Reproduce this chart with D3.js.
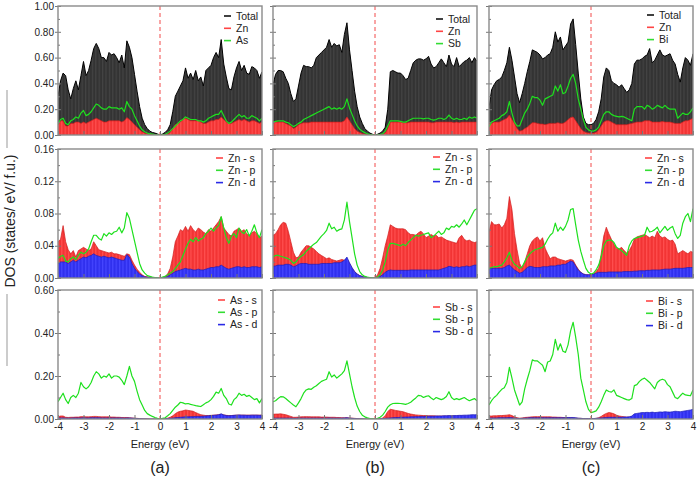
<!DOCTYPE html>
<html>
<head>
<meta charset="utf-8">
<script src="https://cdn.jsdelivr.net/npm/d3@7"></script>
<style>
body { margin: 0; background: #fff; }
svg { display: block; }
text { font-family: "Liberation Sans", Arial, sans-serif; fill: #222; }
</style>
</head>
<body>
<svg id="chart" width="698" height="477"></svg>
<script>
// energy grid: -4 .. 4 eV, 0.1 eV step (81 points per series)
const energy = d3.range(81).map(i => Math.round((-4 + i * 0.1) * 10) / 10);

// ---- row 1: total / Zn / X ----
const totA = [0.30,0.42,0.48,0.46,0.35,0.28,0.36,0.42,0.35,0.46,
	0.57,0.46,0.50,0.58,0.67,0.71,0.67,0.60,0.60,0.57,
	0.64,0.62,0.63,0.60,0.56,0.62,0.52,0.73,0.68,0.60,
	0.47,0.34,0.22,0.13,0.08,0.05,0.03,0.02,0.015,0.008,
	0.0,0.008,0.02,0.04,0.08,0.18,0.30,0.34,0.38,0.42,
	0.52,0.44,0.48,0.43,0.50,0.42,0.45,0.38,0.50,0.52,
	0.54,0.60,0.64,0.60,0.74,0.55,0.45,0.36,0.35,0.45,
	0.52,0.57,0.50,0.54,0.48,0.47,0.53,0.52,0.50,0.44,
	0.49];
const znA = [0.08,0.11,0.11,0.07,0.07,0.09,0.09,0.10,0.10,0.09,
	0.10,0.09,0.10,0.11,0.12,0.13,0.12,0.11,0.10,0.10,
	0.11,0.11,0.11,0.11,0.11,0.10,0.11,0.135,0.12,0.10,
	0.08,0.06,0.04,0.025,0.015,0.01,0.006,0.004,0.002,0.001,
	0,0.001,0.003,0.008,0.02,0.05,0.08,0.09,0.10,0.12,
	0.13,0.12,0.11,0.11,0.11,0.11,0.10,0.09,0.09,0.10,
	0.11,0.11,0.12,0.12,0.14,0.12,0.10,0.09,0.09,0.10,
	0.11,0.12,0.11,0.12,0.11,0.10,0.11,0.11,0.10,0.09,
	0.10];
const asA = [0.085,0.12,0.13,0.09,0.08,0.11,0.12,0.14,0.13,0.17,
	0.19,0.15,0.16,0.18,0.21,0.24,0.23,0.21,0.20,0.20,
	0.22,0.21,0.21,0.21,0.20,0.21,0.18,0.26,0.22,0.20,
	0.15,0.11,0.07,0.04,0.025,0.015,0.01,0.007,0.004,0.002,
	0,0.002,0.006,0.015,0.03,0.05,0.07,0.09,0.11,0.12,
	0.14,0.13,0.12,0.12,0.12,0.11,0.11,0.10,0.11,0.13,
	0.14,0.15,0.16,0.16,0.19,0.15,0.11,0.09,0.10,0.12,
	0.14,0.16,0.14,0.15,0.13,0.13,0.15,0.14,0.13,0.11,
	0.13];
const totB = [0.39,0.47,0.50,0.50,0.49,0.44,0.40,0.32,0.26,0.28,
	0.38,0.48,0.54,0.53,0.53,0.52,0.54,0.60,0.62,0.64,
	0.66,0.68,0.74,0.68,0.71,0.69,0.70,0.64,0.78,0.87,
	0.66,0.50,0.34,0.22,0.14,0.09,0.05,0.03,0.015,0.006,
	0,0.006,0.015,0.03,0.06,0.20,0.49,0.50,0.49,0.48,
	0.48,0.46,0.43,0.44,0.50,0.56,0.58,0.59,0.59,0.58,
	0.59,0.61,0.55,0.52,0.53,0.56,0.59,0.56,0.53,0.62,
	0.55,0.53,0.60,0.53,0.55,0.57,0.58,0.60,0.56,0.60,
	0.57];
const znB = [0.09,0.10,0.10,0.10,0.10,0.09,0.08,0.07,0.05,0.06,
	0.08,0.09,0.095,0.095,0.095,0.10,0.10,0.10,0.10,0.10,
	0.10,0.10,0.10,0.10,0.10,0.10,0.10,0.10,0.11,0.14,
	0.11,0.08,0.05,0.03,0.02,0.012,0.007,0.004,0.002,0.001,
	0,0.001,0.003,0.006,0.015,0.05,0.10,0.10,0.10,0.10,
	0.10,0.095,0.095,0.095,0.10,0.10,0.10,0.10,0.10,0.10,
	0.10,0.10,0.095,0.095,0.10,0.10,0.10,0.10,0.10,0.10,
	0.10,0.095,0.10,0.095,0.10,0.10,0.10,0.10,0.10,0.10,
	0.10];
const sbB = [0.10,0.105,0.11,0.11,0.11,0.10,0.095,0.08,0.065,0.075,
	0.09,0.10,0.12,0.13,0.14,0.15,0.16,0.17,0.18,0.19,
	0.20,0.21,0.22,0.20,0.21,0.20,0.21,0.20,0.22,0.28,
	0.21,0.16,0.11,0.07,0.045,0.03,0.018,0.01,0.005,0.002,
	0,0.002,0.005,0.01,0.03,0.07,0.11,0.11,0.11,0.11,
	0.105,0.10,0.10,0.11,0.12,0.13,0.13,0.13,0.13,0.125,
	0.13,0.13,0.12,0.115,0.12,0.13,0.13,0.12,0.13,0.155,
	0.13,0.12,0.13,0.12,0.12,0.13,0.12,0.14,0.13,0.14,
	0.13];
const totC = [0.21,0.35,0.39,0.42,0.43,0.45,0.50,0.56,0.68,0.58,
	0.45,0.32,0.25,0.32,0.40,0.49,0.57,0.66,0.65,0.64,
	0.62,0.59,0.60,0.62,0.63,0.68,0.80,0.72,0.76,0.66,
	0.69,0.72,0.86,0.90,0.70,0.48,0.28,0.14,0.09,0.08,
	0.08,0.09,0.12,0.18,0.28,0.45,0.52,0.50,0.42,0.40,
	0.39,0.37,0.39,0.36,0.33,0.35,0.40,0.55,0.58,0.58,
	0.59,0.61,0.62,0.67,0.56,0.58,0.62,0.66,0.62,0.61,
	0.62,0.63,0.58,0.55,0.47,0.41,0.52,0.60,0.58,0.54,
	0.63];
const znC = [0.09,0.09,0.10,0.10,0.10,0.11,0.12,0.13,0.155,0.12,
	0.09,0.05,0.03,0.035,0.05,0.06,0.08,0.095,0.095,0.09,
	0.085,0.085,0.08,0.085,0.09,0.09,0.09,0.095,0.09,0.09,
	0.10,0.12,0.135,0.14,0.11,0.08,0.05,0.03,0.02,0.015,
	0.013,0.015,0.02,0.04,0.07,0.10,0.11,0.11,0.10,0.09,
	0.08,0.08,0.08,0.08,0.08,0.085,0.09,0.095,0.10,0.10,
	0.10,0.11,0.11,0.11,0.10,0.10,0.10,0.10,0.105,0.10,
	0.10,0.10,0.095,0.09,0.09,0.09,0.10,0.11,0.11,0.12,
	0.13];
const biC = [0.065,0.10,0.11,0.12,0.13,0.15,0.16,0.18,0.26,0.17,
	0.10,0.07,0.07,0.12,0.17,0.20,0.245,0.30,0.29,0.29,
	0.27,0.23,0.28,0.29,0.30,0.31,0.38,0.34,0.39,0.32,
	0.33,0.38,0.44,0.47,0.40,0.28,0.20,0.12,0.06,0.04,
	0.03,0.03,0.04,0.06,0.11,0.16,0.18,0.18,0.16,0.15,
	0.145,0.14,0.145,0.14,0.13,0.12,0.11,0.20,0.22,0.22,
	0.22,0.20,0.23,0.22,0.20,0.21,0.23,0.22,0.21,0.23,
	0.21,0.20,0.20,0.20,0.13,0.15,0.17,0.16,0.16,0.18,
	0.21];

// ---- row 2: Zn s / p / d ----
const znsA = [0.045,0.048,0.065,0.045,0.035,0.030,0.034,0.026,0.034,0.036,
	0.038,0.036,0.034,0.036,0.045,0.040,0.035,0.034,0.033,0.032,
	0.031,0.032,0.030,0.030,0.029,0.028,0.027,0.030,0.029,0.022,
	0.016,0.011,0.007,0.004,0.002,0.0015,0.001,0.0005,0.0003,0.0001,
	0,0.0005,0.002,0.005,0.012,0.026,0.045,0.052,0.060,0.058,
	0.064,0.058,0.065,0.060,0.057,0.062,0.060,0.057,0.055,0.060,
	0.058,0.062,0.066,0.070,0.076,0.062,0.058,0.054,0.052,0.058,
	0.060,0.062,0.058,0.060,0.055,0.052,0.056,0.058,0.055,0.050,
	0.052];
const znpA = [0.024,0.027,0.028,0.021,0.020,0.024,0.026,0.023,0.028,0.032,
	0.030,0.032,0.036,0.045,0.053,0.053,0.049,0.047,0.055,0.052,
	0.056,0.054,0.057,0.058,0.063,0.056,0.062,0.081,0.074,0.060,
	0.046,0.032,0.018,0.010,0.006,0.003,0.002,0.001,0.0005,0.0002,
	0,0.001,0.002,0.004,0.006,0.008,0.012,0.016,0.020,0.028,
	0.036,0.043,0.048,0.045,0.050,0.046,0.048,0.050,0.055,0.058,
	0.062,0.058,0.062,0.065,0.076,0.062,0.050,0.043,0.052,0.055,
	0.050,0.062,0.057,0.055,0.060,0.052,0.058,0.066,0.056,0.050,
	0.060];
const zndA = [0.018,0.020,0.020,0.020,0.018,0.020,0.022,0.020,0.022,0.024,
	0.026,0.025,0.027,0.028,0.030,0.028,0.027,0.026,0.027,0.026,
	0.025,0.026,0.025,0.024,0.023,0.022,0.022,0.029,0.026,0.018,
	0.012,0.008,0.005,0.003,0.0015,0.001,0.0005,0.0003,0.0002,0.0001,
	0,0.0002,0.001,0.002,0.004,0.006,0.008,0.009,0.010,0.011,
	0.012,0.011,0.011,0.010,0.010,0.011,0.010,0.010,0.011,0.012,
	0.013,0.013,0.014,0.014,0.016,0.014,0.012,0.011,0.012,0.013,
	0.014,0.014,0.013,0.014,0.013,0.013,0.014,0.014,0.014,0.013,
	0.014];
const znsB = [0.053,0.055,0.060,0.066,0.069,0.068,0.058,0.045,0.032,0.025,
	0.026,0.032,0.036,0.040,0.040,0.038,0.036,0.033,0.030,0.028,
	0.026,0.024,0.025,0.023,0.022,0.021,0.022,0.023,0.022,0.024,
	0.018,0.012,0.008,0.005,0.003,0.002,0.001,0.0005,0.0003,0.0001,
	0,0.004,0.012,0.025,0.040,0.052,0.066,0.064,0.062,0.061,
	0.061,0.061,0.060,0.056,0.054,0.054,0.053,0.056,0.058,0.055,
	0.050,0.052,0.054,0.052,0.053,0.050,0.051,0.049,0.047,0.046,
	0.045,0.044,0.043,0.050,0.053,0.048,0.046,0.047,0.045,0.044,
	0.045];
const znpB = [0.026,0.028,0.028,0.027,0.026,0.025,0.024,0.022,0.018,0.020,
	0.024,0.027,0.029,0.033,0.036,0.039,0.042,0.044,0.048,0.052,
	0.055,0.059,0.068,0.061,0.063,0.058,0.060,0.061,0.072,0.094,
	0.070,0.050,0.030,0.016,0.008,0.004,0.002,0.001,0.0005,0.0002,
	0,0.001,0.004,0.010,0.020,0.035,0.043,0.043,0.042,0.041,
	0.040,0.042,0.040,0.044,0.047,0.050,0.053,0.052,0.053,0.054,
	0.055,0.056,0.050,0.052,0.055,0.058,0.054,0.056,0.062,0.060,
	0.064,0.063,0.066,0.063,0.067,0.072,0.066,0.072,0.078,0.084,
	0.086];
const zndB = [0.0145,0.015,0.016,0.016,0.016,0.017,0.017,0.016,0.014,0.015,
	0.017,0.018,0.018,0.018,0.017,0.017,0.017,0.017,0.017,0.018,
	0.018,0.018,0.018,0.018,0.019,0.019,0.019,0.020,0.022,0.026,
	0.019,0.013,0.008,0.005,0.003,0.002,0.001,0.0005,0.0002,0.0001,
	0,0.0005,0.002,0.004,0.007,0.009,0.010,0.0095,0.0095,0.0095,
	0.0095,0.0095,0.0095,0.0095,0.010,0.010,0.010,0.010,0.010,0.010,
	0.010,0.010,0.010,0.010,0.010,0.010,0.011,0.012,0.013,0.0145,
	0.014,0.013,0.014,0.013,0.014,0.014,0.015,0.014,0.015,0.016,
	0.016];
const znsC = [0.057,0.070,0.066,0.066,0.067,0.062,0.066,0.074,0.101,0.085,
	0.055,0.035,0.018,0.012,0.020,0.030,0.040,0.046,0.049,0.051,
	0.046,0.050,0.037,0.030,0.024,0.026,0.026,0.024,0.023,0.022,
	0.021,0.022,0.023,0.022,0.016,0.011,0.007,0.005,0.004,0.004,
	0.004,0.005,0.008,0.012,0.030,0.052,0.063,0.055,0.048,0.042,
	0.037,0.036,0.038,0.034,0.031,0.034,0.040,0.048,0.051,0.052,
	0.053,0.054,0.052,0.050,0.052,0.050,0.058,0.052,0.050,0.051,
	0.048,0.046,0.047,0.042,0.030,0.032,0.034,0.032,0.030,0.033,
	0.032];
const znpC = [0.012,0.013,0.014,0.014,0.015,0.016,0.020,0.025,0.032,0.022,
	0.017,0.015,0.012,0.014,0.020,0.026,0.030,0.033,0.035,0.036,
	0.037,0.038,0.042,0.048,0.053,0.056,0.068,0.058,0.063,0.059,
	0.064,0.072,0.085,0.086,0.066,0.047,0.033,0.022,0.012,0.007,
	0.005,0.006,0.010,0.016,0.026,0.040,0.046,0.047,0.047,0.044,
	0.038,0.036,0.034,0.031,0.028,0.040,0.046,0.049,0.050,0.051,
	0.052,0.053,0.063,0.057,0.058,0.060,0.063,0.056,0.060,0.064,
	0.059,0.062,0.064,0.055,0.049,0.053,0.068,0.076,0.080,0.070,
	0.086];
const zndC = [0.012,0.012,0.012,0.012,0.012,0.012,0.013,0.015,0.016,0.013,
	0.010,0.008,0.006,0.007,0.010,0.013,0.0145,0.014,0.013,0.013,
	0.013,0.014,0.014,0.014,0.015,0.015,0.015,0.016,0.016,0.017,
	0.017,0.019,0.021,0.020,0.015,0.010,0.007,0.005,0.004,0.004,
	0.004,0.005,0.006,0.007,0.007,0.007,0.007,0.0075,0.0075,0.0075,
	0.0075,0.0075,0.0075,0.008,0.008,0.008,0.008,0.0085,0.0085,0.009,
	0.009,0.009,0.0095,0.0095,0.010,0.010,0.010,0.010,0.0105,0.011,
	0.011,0.011,0.0115,0.012,0.012,0.012,0.012,0.0125,0.013,0.013,
	0.013];

// ---- row 3: X s / p / d ----
const assA = [0.010,0.014,0.014,0.008,0.007,0.008,0.008,0.009,0.009,0.011,
	0.011,0.010,0.010,0.011,0.012,0.012,0.011,0.010,0.010,0.010,
	0.010,0.009,0.009,0.008,0.008,0.007,0.007,0.007,0.006,0.005,
	0.004,0.003,0.002,0.0015,0.001,0.0008,0.0005,0.0003,0.0002,0.0001,
	0,0.001,0.002,0.004,0.008,0.015,0.025,0.032,0.036,0.038,
	0.042,0.040,0.038,0.036,0.030,0.025,0.020,0.018,0.016,0.016,
	0.017,0.018,0.019,0.020,0.022,0.019,0.017,0.016,0.016,0.017,
	0.018,0.018,0.018,0.018,0.018,0.018,0.018,0.018,0.018,0.018,
	0.018];
const aspA = [0.080,0.100,0.120,0.090,0.072,0.100,0.110,0.100,0.120,0.170,
	0.150,0.140,0.150,0.170,0.200,0.220,0.210,0.190,0.200,0.195,
	0.210,0.190,0.200,0.200,0.195,0.180,0.160,0.200,0.245,0.200,
	0.175,0.130,0.090,0.065,0.040,0.025,0.018,0.012,0.007,0.003,
	0.0,0.003,0.006,0.015,0.025,0.040,0.055,0.065,0.078,0.075,
	0.070,0.072,0.068,0.065,0.062,0.060,0.058,0.066,0.075,0.080,
	0.090,0.105,0.125,0.120,0.142,0.110,0.095,0.070,0.065,0.090,
	0.100,0.120,0.110,0.115,0.105,0.110,0.100,0.090,0.095,0.075,
	0.095];
const asdA = [0.005,0.005,0.005,0.004,0.004,0.004,0.005,0.005,0.005,0.005,
	0.006,0.005,0.005,0.006,0.006,0.006,0.006,0.005,0.005,0.005,
	0.005,0.005,0.005,0.005,0.005,0.005,0.004,0.005,0.005,0.004,
	0.003,0.002,0.0015,0.001,0.0008,0.0005,0.0003,0.0002,0.0001,0.0001,
	0,0.0005,0.001,0.002,0.003,0.004,0.006,0.007,0.008,0.009,
	0.010,0.010,0.011,0.011,0.012,0.012,0.012,0.013,0.014,0.015,
	0.016,0.017,0.018,0.020,0.024,0.019,0.016,0.015,0.016,0.017,
	0.018,0.019,0.018,0.018,0.017,0.017,0.018,0.018,0.018,0.017,
	0.018];
const sbsB = [0.022,0.023,0.023,0.024,0.022,0.020,0.016,0.012,0.008,0.008,
	0.009,0.010,0.011,0.011,0.011,0.010,0.010,0.010,0.010,0.009,
	0.009,0.009,0.008,0.008,0.008,0.007,0.007,0.006,0.006,0.006,
	0.005,0.004,0.003,0.002,0.001,0.001,0.0005,0.0003,0.0002,0.0001,
	0,0.0005,0.001,0.005,0.015,0.035,0.045,0.043,0.040,0.038,
	0.036,0.034,0.030,0.026,0.023,0.021,0.019,0.018,0.017,0.016,
	0.016,0.015,0.015,0.015,0.014,0.014,0.014,0.014,0.014,0.014,
	0.014,0.014,0.014,0.014,0.014,0.014,0.014,0.014,0.014,0.014,
	0.014];
const sbpB = [0.080,0.085,0.095,0.104,0.103,0.095,0.085,0.075,0.065,0.057,
	0.075,0.095,0.120,0.135,0.140,0.138,0.148,0.155,0.165,0.175,
	0.180,0.185,0.220,0.195,0.205,0.190,0.200,0.210,0.225,0.270,
	0.210,0.150,0.100,0.060,0.035,0.018,0.010,0.005,0.002,0.001,
	0.0,0.003,0.008,0.018,0.035,0.055,0.066,0.072,0.073,0.073,
	0.072,0.070,0.068,0.072,0.078,0.088,0.098,0.110,0.108,0.100,
	0.105,0.108,0.098,0.090,0.100,0.095,0.090,0.095,0.105,0.127,
	0.100,0.090,0.095,0.090,0.095,0.100,0.092,0.085,0.090,0.095,
	0.085];
const sbdB = [0.004,0.004,0.004,0.004,0.004,0.004,0.004,0.004,0.003,0.003,
	0.004,0.004,0.004,0.004,0.004,0.004,0.004,0.004,0.004,0.004,
	0.004,0.004,0.005,0.004,0.004,0.004,0.004,0.004,0.005,0.006,
	0.004,0.003,0.002,0.0015,0.001,0.0008,0.0005,0.0003,0.0002,0.0001,
	0,0.0005,0.001,0.002,0.003,0.004,0.005,0.006,0.007,0.007,
	0.008,0.008,0.009,0.009,0.010,0.010,0.011,0.011,0.012,0.012,
	0.012,0.013,0.013,0.013,0.014,0.014,0.014,0.015,0.015,0.016,
	0.015,0.016,0.016,0.017,0.017,0.018,0.018,0.019,0.020,0.020,
	0.020];
const bisC = [0.014,0.014,0.015,0.015,0.016,0.016,0.017,0.018,0.020,0.016,
	0.010,0.006,0.004,0.005,0.007,0.008,0.009,0.010,0.011,0.011,
	0.011,0.010,0.010,0.010,0.010,0.009,0.009,0.008,0.008,0.007,
	0.006,0.006,0.006,0.005,0.004,0.003,0.003,0.002,0.002,0.002,
	0.002,0.002,0.003,0.006,0.012,0.020,0.026,0.030,0.028,0.024,
	0.018,0.014,0.012,0.010,0.009,0.009,0.009,0.009,0.008,0.008,
	0.008,0.008,0.008,0.008,0.008,0.008,0.008,0.008,0.008,0.008,
	0.008,0.008,0.008,0.008,0.008,0.008,0.008,0.008,0.008,0.008,
	0.008];
const bipC = [0.065,0.085,0.100,0.110,0.125,0.138,0.145,0.170,0.240,0.190,
	0.135,0.100,0.065,0.080,0.140,0.185,0.225,0.275,0.270,0.270,
	0.260,0.250,0.220,0.265,0.270,0.300,0.370,0.320,0.350,0.315,
	0.310,0.345,0.410,0.450,0.380,0.300,0.190,0.135,0.080,0.045,
	0.030,0.033,0.038,0.055,0.080,0.110,0.135,0.128,0.125,0.135,
	0.110,0.105,0.100,0.095,0.090,0.088,0.095,0.155,0.160,0.175,
	0.185,0.190,0.180,0.170,0.155,0.140,0.170,0.180,0.185,0.180,
	0.160,0.150,0.125,0.100,0.095,0.108,0.120,0.112,0.110,0.108,
	0.135];
const bidC = [0.005,0.005,0.005,0.005,0.006,0.006,0.006,0.006,0.007,0.006,
	0.004,0.003,0.002,0.003,0.004,0.005,0.006,0.006,0.006,0.006,
	0.006,0.006,0.006,0.006,0.006,0.006,0.006,0.006,0.006,0.006,
	0.006,0.007,0.007,0.007,0.006,0.004,0.003,0.002,0.002,0.002,
	0.002,0.002,0.003,0.004,0.005,0.006,0.007,0.008,0.008,0.008,
	0.008,0.008,0.008,0.009,0.009,0.010,0.014,0.024,0.026,0.028,
	0.030,0.030,0.031,0.030,0.032,0.030,0.031,0.033,0.032,0.034,
	0.033,0.032,0.034,0.036,0.035,0.034,0.036,0.038,0.040,0.042,
	0.045];

const xTicks = [-4, -3, -2, -1, 0, 1, 2, 3, 4];
const panelTags = ['(a)', '(b)', '(c)'];

// layout
const colLeft = [58, 273, 489], rowTop = [6, 149, 290];
const pw = 204, ph = 129;
const yMax = [1.0, 0.16, 0.6], yStep = [0.2, 0.04, 0.2];

const panels = [
	{ c: 0, r: 0, leg: [26, 10], series: [['Total', totA, 'total'], ['Zn', znA, 'red'], ['As', asA, 'green']] },
	{ c: 1, r: 0, leg: [29, 13], series: [['Total', totB, 'total'], ['Zn', znB, 'red'], ['Sb', sbB, 'green']] },
	{ c: 2, r: 0, leg: [34, 9], series: [['Total', totC, 'total'], ['Zn', znC, 'red'], ['Bi', biC, 'green']] },
	{ c: 0, r: 1, leg: [34, 9], series: [['Zn - s', znsA, 'red'], ['Zn - p', znpA, 'green'], ['Zn - d', zndA, 'blue']] },
	{ c: 1, r: 1, leg: [32, 8], series: [['Zn - s', znsB, 'red'], ['Zn - p', znpB, 'green'], ['Zn - d', zndB, 'blue']] },
	{ c: 2, r: 1, leg: [36, 9], series: [['Zn - s', znsC, 'red'], ['Zn - p', znpC, 'green'], ['Zn - d', zndC, 'blue']] },
	{ c: 0, r: 2, leg: [32, 10], series: [['As - s', assA, 'red'], ['As - p', aspA, 'green'], ['As - d', asdA, 'blue']] },
	{ c: 1, r: 2, leg: [32, 17], series: [['Sb - s', sbsB, 'red'], ['Sb - p', sbpB, 'green'], ['Sb - d', sbdB, 'blue']] },
	{ c: 2, r: 2, leg: [35, 11], series: [['Bi - s', bisC, 'red'], ['Bi - p', bipC, 'green'], ['Bi - d', bidC, 'blue']] }
];

const style = {
	total: { fill: 'url(#pat-total)', stroke: '#000', sw: 1, key: '#111' },
	red: { fill: 'url(#pat-red)', stroke: '#d01c1c', sw: 0.7, key: '#f44' },
	blue: { fill: 'url(#pat-blue)', stroke: '#1c1cb8', sw: 0.7, key: '#2a2ae6' },
	green: { fill: 'none', stroke: '#1ee01e', sw: 1.2, key: '#3d3' }
};
const drawOrder = ['total', 'red', 'blue', 'green'];

const svg = d3.select('#chart');
const defs = svg.append('defs');

function stripes(id, base, line) {
	const p = defs.append('pattern').attr('id', id).attr('patternUnits', 'userSpaceOnUse')
		.attr('width', 3.4).attr('height', 10);
	p.append('rect').attr('width', 3.4).attr('height', 10).attr('fill', base);
	p.append('rect').attr('width', 1.2).attr('height', 10).attr('fill', line);
}
stripes('pat-total', '#333', '#444');
stripes('pat-red', '#f23434', '#ff4f4f');
stripes('pat-blue', '#3030ee', '#4646ff');

panels.forEach((p, k) => {
	const x0 = colLeft[p.c], y0 = rowTop[p.r];
	const x = d3.scaleLinear().domain([-4, 4]).range([x0, x0 + pw]);
	const y = d3.scaleLinear().domain([0, yMax[p.r]]).range([y0 + ph, y0]);

	defs.append('clipPath').attr('id', 'clip' + k)
		.append('rect').attr('x', x0).attr('y', y0).attr('width', pw).attr('height', ph);

	const g = svg.append('g').attr('clip-path', 'url(#clip' + k + ')');

	const area = d3.area().x((d, i) => x(energy[i])).y0(y(0)).y1(d => y(d));
	const line = d3.line().x((d, i) => x(energy[i])).y(d => y(d));

	drawOrder.forEach(kind => {
		const s = p.series.find(d => d[2] == kind);
		if (!s) return;
		const st = style[kind];
		if (kind == 'green') {
			g.append('path').attr('d', line(s[1])).attr('fill', 'none')
				.attr('stroke', st.stroke).attr('stroke-width', st.sw).attr('stroke-linejoin', 'round');
		} else {
			g.append('path').attr('d', area(s[1])).attr('fill', st.fill);
			g.append('path').attr('d', line(s[1])).attr('fill', 'none')
				.attr('stroke', st.stroke).attr('stroke-width', st.sw).attr('stroke-linejoin', 'round');
		}
	});

	// Fermi level
	g.append('line').attr('x1', x(0)).attr('x2', x(0)).attr('y1', y0).attr('y2', y0 + ph)
		.attr('stroke', '#f24a4a').attr('stroke-width', 1).attr('stroke-dasharray', '4,3');

	// y axis: major ticks cross the frame, minor ticks inside; labels on first column only
	const majors = d3.range(0, yMax[p.r] + 1e-9, yStep[p.r]);
	const minors = d3.range(yStep[p.r] / 2, yMax[p.r], yStep[p.r]);
	const yAxis = d3.axisLeft(y).tickValues(majors).tickSizeInner(3).tickSizeOuter(0).tickPadding(1)
		.tickFormat(p.c == 0 ? d3.format('.2f') : '');
	const ya = svg.append('g').attr('transform', 'translate(' + x0 + ',0)').call(yAxis);
	const yIn = d3.axisLeft(y).tickValues(majors).tickSizeInner(-3).tickSizeOuter(0).tickFormat('');
	const yi = svg.append('g').attr('transform', 'translate(' + x0 + ',0)').call(yIn);
	const yMinor = d3.axisLeft(y).tickValues(minors).tickSizeInner(-2).tickSizeOuter(0).tickFormat('');
	const ym = svg.append('g').attr('transform', 'translate(' + x0 + ',0)').call(yMinor);

	const xAxis = d3.axisBottom(x).tickValues(xTicks).tickSizeInner(-4).tickSizeOuter(0).tickPadding(4)
		.tickFormat(p.r == 2 ? (d => String(d)) : '');
	const xa = svg.append('g').attr('transform', 'translate(0,' + (y0 + ph) + ')').call(xAxis);

	[ya, yi, ym, xa].forEach(a => {
		a.select('.domain').remove();
		a.selectAll('line').attr('stroke', '#777');
		a.selectAll('text').attr('font-size', 10).attr('font-family', null).attr('fill', '#222');
	});

	// frame
	svg.append('rect').attr('x', x0).attr('y', y0).attr('width', pw).attr('height', ph)
		.attr('fill', 'none').attr('stroke', '#8a8a8a').attr('stroke-width', 1.4);

	// legend
	const lx = x0 + pw - p.leg[0], ly = y0 + p.leg[1];
	const lg = svg.append('g');
	p.series.forEach((s, i) => {
		const yy = ly + i * 12.3;
		lg.append('line').attr('x1', lx - 12).attr('x2', lx - 5).attr('y1', yy).attr('y2', yy)
			.attr('stroke', style[s[2]].key).attr('stroke-width', 1.6);
		lg.append('text').attr('x', lx).attr('y', yy).attr('dy', '0.35em')
			.attr('font-size', 10.5).text(s[0]);
	});

	if (p.r == 2) {
		svg.append('text').attr('x', x0 + pw / 2).attr('y', 448).attr('text-anchor', 'middle')
			.attr('font-size', 11).text('Energy (eV)');
		svg.append('text').attr('x', x0 + pw / 2).attr('y', 473).attr('text-anchor', 'middle')
			.attr('font-size', 16).text(panelTags[p.c]);
	}
});

// shared y label with rule lines
svg.append('text').attr('transform', 'translate(15,221) rotate(-90)').attr('text-anchor', 'middle')
	.attr('font-size', 14).text('DOS (states/ eV/ f.u.)');
svg.append('line').attr('x1', 7).attr('x2', 7).attr('y1', 90).attr('y2', 148).attr('stroke', '#999');
svg.append('line').attr('x1', 7).attr('x2', 7).attr('y1', 294).attr('y2', 366).attr('stroke', '#999');
</script>
</body>
</html>
